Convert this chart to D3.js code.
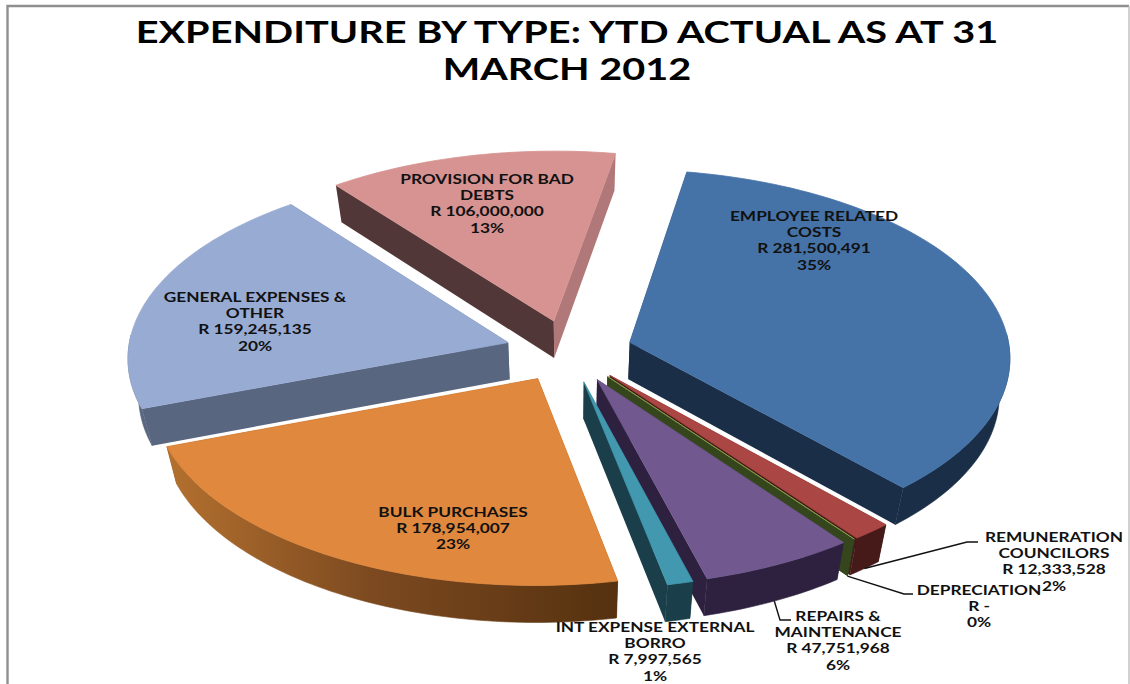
<!DOCTYPE html>
<html>
<head>
<meta charset="utf-8">
<script src="https://cdn.jsdelivr.net/npm/d3@7"></script>
<style>
  html, body { margin: 0; padding: 0; background: #fff; }
  svg { display: block; }
  text { font-family: Lato, "Noto Sans", sans-serif; fill: #111; }
</style>
</head>
<body>
<svg id="chart" width="1130" height="684"></svg>
<script>
// Expenditure categories and year-to-date actuals, in drawing order clockwise.
const categories = [
  ["EMPLOYEE RELATED", "COSTS"],
  ["REMUNERATION", "COUNCILORS"],
  ["DEPRECIATION"],
  ["REPAIRS &", "MAINTENANCE"],
  ["INT EXPENSE EXTERNAL", "BORRO"],
  ["BULK PURCHASES"],
  ["GENERAL EXPENSES &", "OTHER"],
  ["PROVISION FOR BAD", "DEBTS"]
];
const amounts = [281500491, 12333528, 0, 47751968, 7997565, 178954007, 159245135, 106000000];

// Face colours per slice.
const topColors    = ["#4572a7", "#aa4643", "#89a54e", "#71588f", "#4198af", "#e0883e", "#98abd3", "#d69391"];
const wallColors   = ["#1b2e47", "#451a19", "#35451c", "#2e213f", "#1a3f4a", "#55310f", "#596680", "#523738"];
const closingWallColors = ["#1b2e47", "#451a19", "#35451c", "#2e213f", "#1a3f4a", "#55310f", "#596680", "#b07878"];

// Label placement: centre x and the y of the first line; rows sit 16.3px apart.
const labelX = [814, 1054, 979, 838, 655, 453, 255, 487];
const labelY = [216, 537, 590, 616, 627, 512, 297, 179];
// Leader elbows for the labels that sit outside the pie.
const leaders = { 1: [[967, 542], [978, 542]], 2: [[904, 594], [913, 594]], 3: [[780, 620], [791, 620]] };

const titleLines = ["EXPENDITURE BY TYPE: YTD ACTUAL AS AT 31", "MARCH 2012"];

const svg = d3.select("#chart");

// Perspective view of the pie's ground plane, unit radius.
const view = { cx: 569, cy: 351, ax: 380, ay: 187, persp: 0.075, depth: 37, converge: 0.024 };
const explode = 0.167;

function project(gx, gy, lower) {
  const s = 1 / (1 - view.persp * gy);
  let x = view.cx + view.ax * gx * s;
  let y = view.cy + view.ay * gy * s;
  if (lower) {
    x = view.cx + (x - view.cx) * (1 - view.converge);
    y += view.depth;
  }
  return [x, y];
}

const firstAngle = 10 * Math.PI / 180;
const pie = d3.pie().sort(null).value(d => d).startAngle(firstAngle).endAngle(firstAngle + 2 * Math.PI);
const arcs = pie(amounts);
const total = d3.sum(amounts);

const pt = (d, r, a, lower) => {
  const mid = (d.startAngle + d.endAngle) / 2;
  const ox = explode * Math.sin(mid), oy = -explode * Math.cos(mid);
  return project(ox + r * Math.sin(a), oy - r * Math.cos(a), lower);
};

const line = d3.line();
const arcAngles = d => {
  const n = Math.max(2, Math.ceil((d.endAngle - d.startAngle) / 0.02));
  return d3.range(n + 1).map(i => d.startAngle + (d.endAngle - d.startAngle) * i / n);
};

// Rim shading runs from light to dark across the bulk-purchases slice.
const defs = svg.append("defs");
const bulkGrad = defs.append("linearGradient").attr("id", "bulkRim")
  .attr("gradientUnits", "userSpaceOnUse").attr("x1", 165).attr("x2", 617).attr("y1", 0).attr("y2", 0);
bulkGrad.append("stop").attr("offset", 0).attr("stop-color", "#b4712f");
bulkGrad.append("stop").attr("offset", 0.45).attr("stop-color", "#7d4a20");
bulkGrad.append("stop").attr("offset", 1).attr("stop-color", "#55310f");

// Chart frame
const frame = svg.append("g").attr("fill", "none");
frame.append("path").attr("d", "M7.5,684V6H1129").attr("stroke", "#8f8f8f").attr("stroke-width", 2.4);
frame.append("path").attr("d", "M1129,6V684").attr("stroke", "#bdbdbd").attr("stroke-width", 1.4);

// Far slices first so that the near ones overlap them.
const paintOrder = [6, 7, 0, 1, 2, 3, 4, 5];
paintOrder.forEach(i => {
  const d = arcs[i];
  const g = svg.append("g");
  const angles = arcAngles(d);
  const rim = angles.map(a => pt(d, 1, a));

  // Radial walls go down first; the rim and top face cover what cannot be seen.
  const wall = (a, color) => g.append("path")
    .attr("d", line([pt(d, 0, a), pt(d, 1, a), pt(d, 1, a, true), pt(d, 0, a, true)]) + "Z")
    .attr("fill", color);
  wall(d.startAngle, wallColors[i]);
  wall(d.endAngle, closingWallColors[i]);

  // Only the part of the rim that faces the viewer is painted.
  const nearAngles = angles.filter(a => Math.cos(a) < 0.05);
  if (nearAngles.length > 1) {
    const rimFill = i === 5 ? "url(#bulkRim)" : wallColors[i];
    const upper = nearAngles.map(a => pt(d, 1, a));
    const lower = nearAngles.map(a => pt(d, 1, a, true)).reverse();
    g.append("path").attr("d", line(upper.concat(lower)) + "Z")
      .attr("fill", rimFill).attr("stroke", rimFill).attr("stroke-width", 0.6);
  }

  g.append("path").attr("d", line([pt(d, 0, d.startAngle)].concat(rim)) + "Z")
    .attr("fill", topColors[i]).attr("stroke", topColors[i]).attr("stroke-width", 0.8);
});

// Leader lines from the rim to the outside labels
Object.keys(leaders).forEach(k => {
  const d = arcs[k];
  const start = pt(d, 1, (d.startAngle + d.endAngle) / 2, true);
  svg.append("path").attr("d", line([start].concat(leaders[k])))
    .attr("fill", "none").attr("stroke", "#111").attr("stroke-width", 1.4);
});

// Title
titleLines.forEach((t, i) => {
  svg.append("text")
    .attr("transform", `translate(567,${43 + i * 37}) scale(1.28,1)`)
    .attr("text-anchor", "middle").attr("font-size", 31).attr("font-weight", 700)
    .style("fill", "#000")
    .text(t);
});

// Data labels: name, amount, share
const money = d3.format(",");
const pct = d3.format(".0%");
arcs.forEach((d, i) => {
  const rows = categories[i].concat([
    d.value === 0 ? "R -" : "R " + money(d.value),
    pct(d.value / total)
  ]);
  rows.forEach((t, j) => {
    svg.append("text")
      .attr("transform", `translate(${labelX[i]},${labelY[i] + j * 16.3}) scale(1.28,1)`)
      .attr("dy", "0.36em")
      .attr("text-anchor", "middle").attr("font-size", 13.5).attr("font-weight", 700)
      .text(t);
  });
});
</script>
</body>
</html>
